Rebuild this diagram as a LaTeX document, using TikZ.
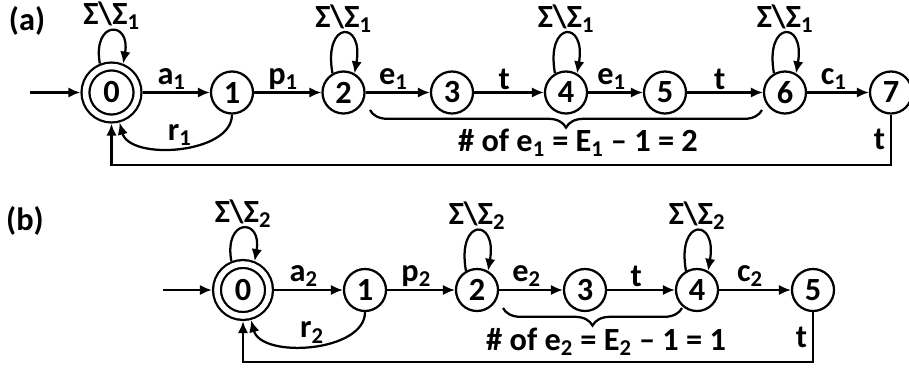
\documentclass[tikz,border=0pt]{standalone}
\usepackage{fontspec}
\setmainfont{Carlito}
\usetikzlibrary{arrows.meta, decorations.pathreplacing}

\begin{document}
\begin{tikzpicture}[x=0.025cm, y=0.025cm, font=\fontsize{23}{27}\selectfont\bfseries,
    st/.style={circle, draw, line width=1.6pt, minimum size=1.05cm, inner sep=0pt},
    acc/.style={st, minimum size=1.3cm, double, double distance=1.4mm, outer sep=1.3mm},
    tr/.style={-{Latex[length=3mm,width=2.6mm]}, line width=1.6pt},
    lbl/.style={pos=0.43, above, inner sep=1.5pt},
    lp/.style={out=100, in=80, distance=1.35cm},
    lpt/.style={above, inner sep=0pt},
    brc/.style={decorate, decoration={brace, mirror, amplitude=0.44cm}, line width=1.6pt}]
    \useasboundingbox (0,0) rectangle (909,371);

    % (a)
    \node (la) at (27,350) {(a)};
    \node[acc] (a0) at (111.5,278.5) {0};
    \foreach \n/\x in {1/232, 2/343.5, 3/452, 4/566, 5/665, 6/785, 7/891}
        \node[st] (a\n) at (\x,278.5) {\n};
    \coordinate (ain) at (30,278.5);
    \coordinate (abot) at (500,206);
    \draw[tr] (ain) -- (a0);
    \foreach \s/\t/\l in {0/1/a, 1/2/p, 2/3/e, 4/5/e, 6/7/c}
        \draw[tr] (a\s) -- node[lbl] {\l\textsubscript{1}} (a\t);
    \foreach \s/\t in {3/4, 5/6}
        \draw[tr] (a\s) -- node[lbl] {t} (a\t);
    \draw[tr] (a0.112) to[lp, distance=1.1cm] node[lpt] {Σ\textbackslash Σ\textsubscript{1}} (a0.68);
    \foreach \n in {2,4,6}
        \draw[tr] (a\n.120) to[lp] node[lpt] {Σ\textbackslash Σ\textsubscript{1}} (a\n.60);
    \draw[tr] (a1) to[out=-90, in=-75, looseness=0.9] node[above, inner sep=1pt] {r\textsubscript{1}} (a0);
    \draw[tr] (a7) |- node[pos=0.25, left] {t} (abot) -| (a0);
    \draw[brc] (370,261) -- (762,261)
        node[midway, yshift=-0.82cm, xshift=0.3cm] {\# of e\textsubscript{1} = E\textsubscript{1} – 1 = 2};

    % (b)
    \node (lb) at (25,150) {(b)};
    \node[acc] (b0) at (243,81) {0};
    \foreach \n/\x in {1/365, 2/477, 3/585, 4/697, 5/813}
        \node[st] (b\n) at (\x,81) {\n};
    \coordinate (bin) at (163,81);
    \coordinate (bbot) at (500,9);
    \draw[tr] (bin) -- (b0);
    \foreach \s/\t/\l in {0/1/a, 1/2/p, 2/3/e, 4/5/c}
        \draw[tr] (b\s) -- node[lbl] {\l\textsubscript{2}} (b\t);
    \draw[tr] (b3) -- node[lbl] {t} (b4);
    \draw[tr] (b0.112) to[lp, distance=1.1cm] node[lpt] {Σ\textbackslash Σ\textsubscript{2}} (b0.68);
    \foreach \n in {2,4}
        \draw[tr] (b\n.120) to[lp] node[lpt] {Σ\textbackslash Σ\textsubscript{2}} (b\n.60);
    \draw[tr] (b1) to[out=-90, in=-75, looseness=0.9] node[above, inner sep=1pt] {r\textsubscript{2}} (b0);
    \draw[tr] (b5) |- node[pos=0.25, left] {t} (bbot) -| (b0);
    \draw[brc] (503,63) -- (682,63)
        node[midway, yshift=-0.85cm, xshift=0.34cm] {\# of e\textsubscript{2} = E\textsubscript{2} – 1 = 1};
\end{tikzpicture}
\end{document}
